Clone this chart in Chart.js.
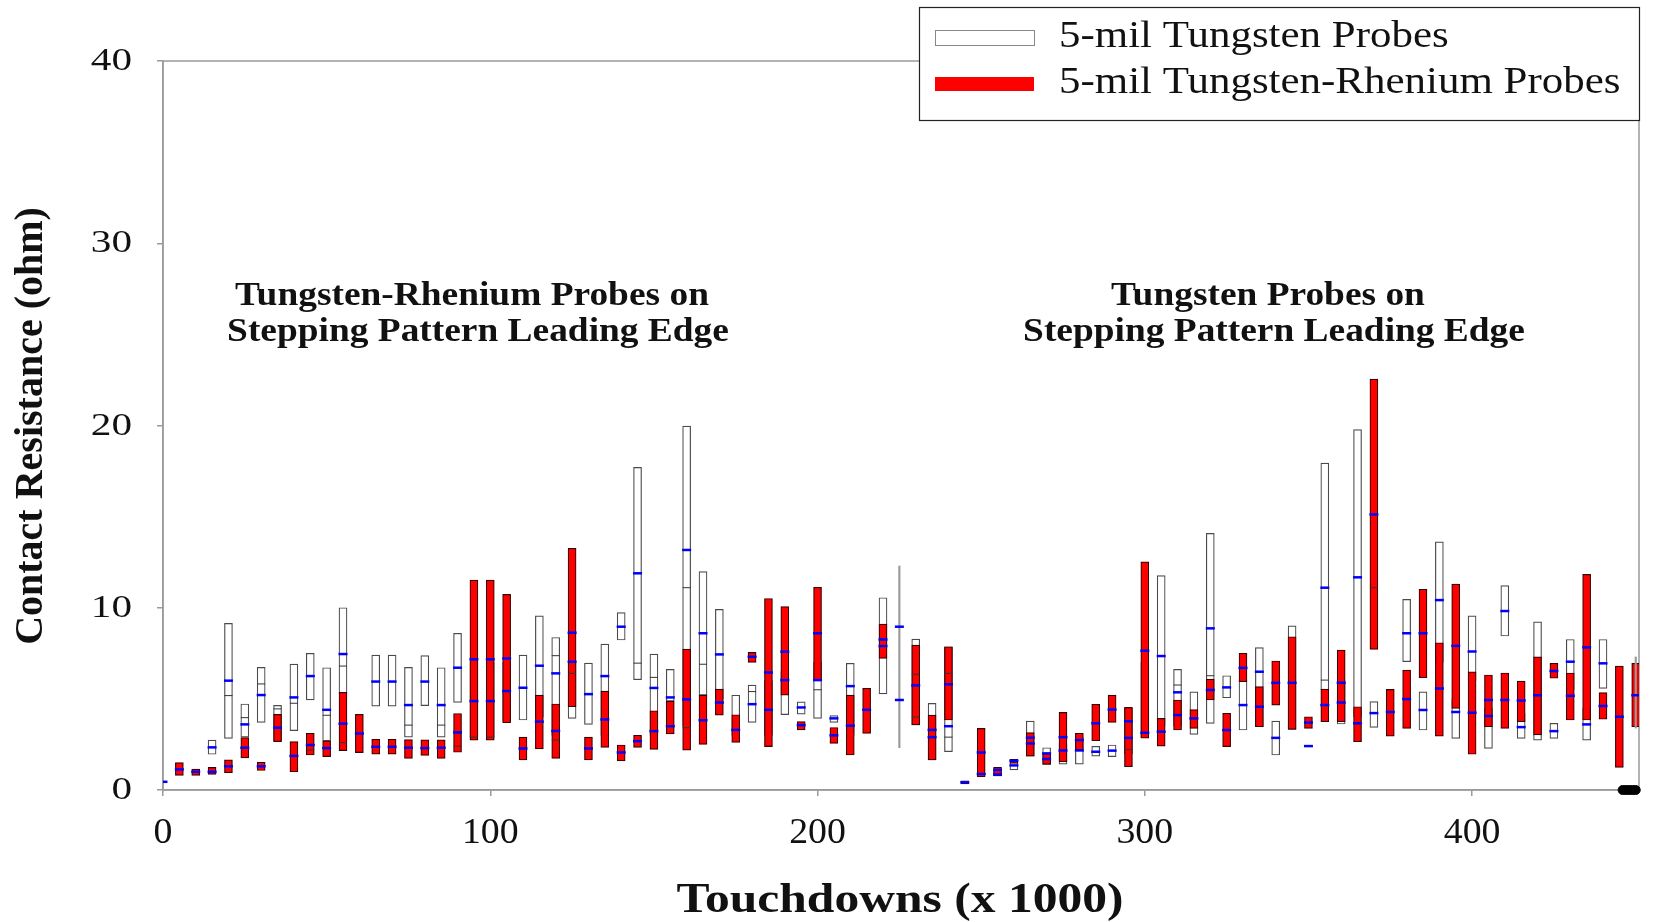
<!DOCTYPE html>
<html>
<head>
<meta charset="utf-8">
<title>Contact Resistance vs Touchdowns</title>
<script src="https://cdn.jsdelivr.net/npm/chart.js@4.4.1/dist/chart.umd.min.js"></script>
<style>
  html, body { margin: 0; padding: 0; background: #fff; overflow: hidden; }
  #wrap { width: 1672px; height: 922px; }
</style>
</head>
<body>
<div id="wrap"><canvas id="chart" width="1672" height="922"></canvas></div>
<script>
// touchdown positions (x 1000), one box pair every 5k
const touchdowns = [
  0, 5, 10, 15, 20, 25, 30, 35, 40, 45,
  50, 55, 60, 65, 70, 75, 80, 85, 90, 95,
  100, 105, 110, 115, 120, 125, 130, 135, 140, 145,
  150, 155, 160, 165, 170, 175, 180, 185, 190, 195,
  200, 205, 210, 215, 220, 225, 230, 235, 240, 245,
  250, 255, 260, 265, 270, 275, 280, 285, 290, 295,
  300, 305, 310, 315, 320, 325, 330, 335, 340, 345,
  350, 355, 360, 365, 370, 375, 380, 385, 390, 395,
  400, 405, 410, 415, 420, 425, 430, 435, 440, 445,
  450
];

// tungsten probes: box bottom / top, mean (blue) and median (black)
const wLow = [
  null, null, null, 1.96, 2.83, 2.9, 3.71, 2.7, 3.26, 4.94,
  2.7, 5.3, null, 4.6, 4.6, 2.9, 4.63, 2.9, 4.81, 2.9,
  2.9, 3.8, 3.84, 4.0, 3.0, 3.93, 3.6, 3.0, 8.23, 6.05,
  3.0, 4.87, 3.5, 5.2, 5.0, 3.0, 3.71, 3.0, 4.14, 4.16,
  3.93, 3.71, 3.0, null, 5.27, null, 3.57, 1.65, 2.1, null,
  null, 0.77, 1.1, 1.86, 1.41, 1.42, 1.42, 1.86, 1.83, 2.0,
  2.9, 3.5, 3.5, 3.05, 3.66, 5.06, 3.29, 3.47, 1.92, 3.33,
  null, 5.5, 3.62, 4.0, 3.44, null, 7.04, 3.29, 7.0, 2.83,
  6.0, 2.28, 8.45, 2.83, 2.74, 2.83, 5.5, 2.74, 5.58, null,
  null
];
const wHigh = [
  null, null, null, 2.74, 9.14, 4.72, 6.73, 4.64, 6.91, 7.5,
  6.71, 10.0, null, 7.4, 7.4, 6.73, 7.37, 6.71, 8.6, 7.0,
  7.0, 7.0, 7.4, 9.56, 8.37, 7.0, 6.96, 8.0, 9.73, 17.7,
  7.46, 6.62, 19.97, 11.98, 9.91, 5.2, 5.76, 6.0, 6.5, 4.84,
  7.0, 4.08, 6.95, null, 10.55, null, 8.28, 4.75, 7.86, null,
  null, 1.0, 1.68, 3.78, 2.32, 2.5, 2.9, 2.4, 2.47, 4.5,
  7.0, 11.76, 6.62, 5.39, 14.08, 6.27, 6.0, 7.81, 3.78, 9.01,
  null, 17.94, 6.0, 19.78, 4.85, null, 10.46, 5.39, 13.62, 5.0,
  9.56, 4.5, 11.21, 4.2, 9.23, 3.66, 8.26, 4.5, 8.26, null,
  null
];
const wMean = [
  0.45, null, null, 2.34, 6.0, 3.6, 5.21, null, 5.08, 6.25,
  4.4, 7.46, null, 5.95, 5.95, 4.66, 5.95, 4.66, 6.71, 4.88,
  4.88, 5.43, 5.61, 6.82, 6.4, 7.04, 5.26, 6.25, 8.96, 11.89,
  5.6, 5.08, 13.17, 8.6, 7.44, null, 4.71, 4.4, 6.03, 4.53,
  6.03, 3.93, 5.7, null, 7.9, 8.96, null, 3.3, 3.5, null,
  0.88, 0.85, 1.35, 2.55, 1.7, 2.17, 2.17, 2.1, 2.16, 3.77,
  3.14, 7.35, 5.36, null, 8.87, 5.63, 4.66, 6.49, 2.86, null,
  2.41, 11.1, 4.8, 11.67, 4.22, null, 8.6, 4.39, 10.42, 4.28,
  7.6, 4.06, 9.82, 3.45, null, 3.23, 7.04, 3.6, 6.95, null,
  null
];
const wMedian = [
  null, null, null, null, 5.18, 3.97, 5.82, 4.45, 4.76, null,
  4.1, 6.8, null, null, null, 3.56, null, 3.56, null, null,
  null, null, null, null, 7.37, null, null, null, null, 6.96,
  6.18, null, 11.1, 6.9, null, null, 5.4, null, null, null,
  5.5, null, null, null, null, null, 6.35, null, 2.9, null,
  null, null, null, null, null, null, null, null, null, null,
  null, null, 5.76, null, 6.27, null, null, null, null, null,
  null, 6.03, null, null, null, null, null, null, null, null,
  null, null, null, null, null, null, null, null, null, null,
  null
];

// tungsten-rhenium probes
const reLow = [
  null, 0.8, 0.8, 0.86, 0.95, 1.76, 1.07, 2.65, 1.0, 1.92,
  1.83, 2.16, 2.05, 1.97, 1.97, 1.73, 1.9, 1.73, 2.07, 2.74,
  2.74, 3.69, 1.65, 2.25, 1.73, 4.57, 1.65, 2.34, 1.6, 2.34,
  2.23, 3.08, 2.19, 2.5, 4.11, 2.61, 7.0, 2.38, 5.21, 3.3,
  6.03, 2.56, 1.92, 3.11, 7.22, null, 3.57, 1.65, 3.84, 0.33,
  0.73, 0.77, 1.46, 1.86, 1.41, 1.55, 2.2, 2.7, 3.71, 1.28,
  2.84, 2.41, 3.29, 3.38, 4.94, 2.38, 5.94, 3.47, 4.66, 3.33,
  3.38, 3.75, 3.75, 2.65, 7.72, 2.96, 3.38, 6.16, 2.96, 4.48,
  1.96, 3.47, 3.38, 3.75, 3.02, 6.13, 3.84, 3.84, 3.88, 1.24,
  3.47
];
const reHigh = [
  null, 1.5, 1.15, 1.24, 1.65, 2.87, 1.52, 4.15, 2.65, 3.11,
  2.69, 5.36, 4.15, 2.78, 2.78, 2.77, 2.75, 2.75, 4.2, 11.52,
  11.52, 10.73, 2.9, 5.21, 4.72, 13.26, 2.9, 5.43, 2.47, 3.0,
  4.35, 4.87, 7.73, 5.21, 5.54, 4.13, 7.55, 10.51, 10.06, 3.75,
  11.12, 3.43, 5.21, 5.58, 9.1, null, 7.95, 4.11, 7.86, 0.5,
  3.38, 1.24, 1.68, 3.15, 2.05, 4.26, 3.11, 4.7, 5.21, 4.53,
  12.52, 3.93, 4.94, 4.41, 6.09, 4.21, 7.5, 5.67, 7.08, 8.41,
  4.02, 5.54, 7.68, 4.57, 22.55, 5.52, 6.58, 11.01, 8.08, 11.3,
  6.48, 6.31, 6.42, 5.98, 7.31, 6.95, 6.42, 11.83, 5.34, 6.8,
  6.95
];
const reMean = [
  null, 1.13, 1.0, 1.0, 1.3, 2.32, 1.3, 3.42, 1.87, 2.47,
  2.3, 3.64, 3.1, 2.37, 2.37, 2.32, 2.3, 2.32, 3.16, 7.17,
  7.17, 7.22, 2.28, 3.75, 3.24, 8.63, 2.28, 3.87, 2.06, 2.68,
  3.23, 3.5, 4.97, 3.83, 4.8, 3.3, 7.31, 6.45, 7.59, 3.56,
  8.6, 3.0, 3.53, 4.4, 8.26, 4.94, 5.74, 2.9, 5.8, 0.42,
  2.06, 1.1, 1.6, 2.87, 2.0, 2.9, 2.74, 3.66, 4.41, 2.86,
  7.64, 3.2, 4.11, 3.93, 5.49, 3.29, 6.7, 4.57, 5.88, 5.88,
  3.7, 4.66, 5.88, 3.66, 15.12, 4.28, 4.99, 8.6, 5.57, 7.91,
  4.24, 4.94, 4.94, 4.91, 5.2, 6.53, 5.17, 7.83, 4.61, 4.02,
  5.2
];
const reMedian = [
  null, null, null, null, null, null, null, null, null, 2.2,
  null, 2.6, null, null, null, null, null, null, 2.4, 2.9,
  2.9, null, null, null, 2.74, 6.4, null, null, null, null,
  null, null, 3.42, null, null, null, null, null, null, null,
  null, null, null, null, null, null, 4.0, null, 6.4, null,
  null, null, null, null, null, null, null, null, null, 2.22,
  null, null, null, null, null, null, null, null, null, null,
  null, null, null, null, 11.1, null, null, null, null, null,
  null, null, null, null, null, null, null, null, null, null,
  null
];

// lone range lines without a box
const lineX = [225, 450];
const lineLow = [2.32, 3.4];
const lineHigh = [12.29, 7.3];

// readings stuck at zero at the end of the run
const zeroX = [446, 447, 448, 449, 450];
const zeroY = [0, 0, 0, 0, 0];

const xTicks = [0, 100, 200, 300, 400];
const yTicks = [0, 10, 20, 30, 40];

const labelW = '5-mil Tungsten Probes';
const labelRe = '5-mil Tungsten-Rhenium Probes';

function boxes(lo, hi) {
  return touchdowns
    .map((x, i) => (lo[i] == null || hi[i] == null ? null : { x, y: [lo[i], hi[i]] }))
    .filter(Boolean);
}
function marks(...lists) {
  const out = [];
  lists.forEach(vals => touchdowns.forEach((x, i) => {
    if (vals[i] != null) out.push({ x, y: vals[i] });
  }));
  return out;
}

// text with horizontal stretch, the serif faces here run wide
function text(ctx, str, x, y, font, sx, align) {
  ctx.save();
  ctx.font = font;
  ctx.fillStyle = '#111';
  ctx.textAlign = align || 'center';
  ctx.textBaseline = 'middle';
  ctx.translate(x, y);
  ctx.scale(sx, 1);
  ctx.fillText(str, 0, 0);
  ctx.restore();
}

const decorations = {
  id: 'decorations',
  beforeDatasetsDraw(chart) {
    const { ctx, chartArea: a } = chart;
    ctx.save();
    ctx.strokeStyle = '#9a9a9a';
    ctx.lineWidth = 1.5;
    ctx.strokeRect(a.left, a.top, a.right - a.left, a.bottom - a.top);
    ctx.restore();
  },
  afterDraw(chart) {
    const { ctx } = chart;
    const xs = chart.scales.x, ys = chart.scales.y;

    yTicks.forEach(v => text(ctx, String(v), 132, ys.getPixelForValue(v) + 1, '31px "Liberation Serif"', 1.33, 'right'));
    xTicks.forEach(v => text(ctx, String(v), xs.getPixelForValue(v), 834, '35px "Liberation Serif"', 1.08, 'center'));

    text(ctx, 'Touchdowns (x 1000)', 900, 901, 'bold 42px "Liberation Serif"', 1.18, 'center');
    ctx.save();
    ctx.translate(32, 426);
    ctx.rotate(-Math.PI / 2);
    text(ctx, 'Contact Resistance (ohm)', 0, 0, 'bold 40px "Liberation Serif"', 1, 'center');
    ctx.restore();

    const noteFont = 'bold 34px "Liberation Serif"';
    text(ctx, 'Tungsten-Rhenium Probes on', 472, 296, noteFont, 1.1, 'center');
    text(ctx, 'Stepping Pattern Leading Edge', 478, 332, noteFont, 1.1, 'center');
    text(ctx, 'Tungsten Probes on', 1268, 296, noteFont, 1.1, 'center');
    text(ctx, 'Stepping Pattern Leading Edge', 1274, 332, noteFont, 1.1, 'center');

    // legend panel over the top right corner of the plot
    const ds = chart.data.datasets;
    ctx.save();
    ctx.fillStyle = '#fff';
    ctx.fillRect(919, 7, 720, 113);
    ctx.strokeStyle = '#222';
    ctx.lineWidth = 1.2;
    ctx.strokeRect(919.5, 7.5, 720, 113);
    ctx.fillStyle = ds[0].backgroundColor;
    ctx.fillRect(935, 30, 99, 15);
    ctx.strokeStyle = '#888';
    ctx.lineWidth = 1;
    ctx.strokeRect(935.5, 30.5, 99, 15);
    ctx.fillStyle = ds[1].backgroundColor;
    ctx.fillRect(935, 77, 99, 14);
    ctx.restore();
    text(ctx, ds[0].label, 1059, 37, '38px "Liberation Serif"', 1.13, 'left');
    text(ctx, ds[1].label, 1059, 83, '38px "Liberation Serif"', 1.13, 'left');
  }
};

new Chart(document.getElementById('chart'), {
  type: 'bar',
  data: {
    datasets: [
      {
        label: labelW,
        data: boxes(wLow, wHigh),
        backgroundColor: '#ffffff',
        borderColor: '#4a4a4a',
        borderWidth: 1.2,
        borderSkipped: false,
        barThickness: 8,
        grouped: false,
        order: 5
      },
      {
        label: labelRe,
        data: boxes(reLow, reHigh),
        backgroundColor: '#ff0000',
        borderColor: '#3a0000',
        borderWidth: 1.2,
        borderSkipped: false,
        barThickness: 8,
        grouped: false,
        order: 4
      },
      {
        label: 'range',
        data: lineX.map((x, i) => ({ x, y: [lineLow[i], lineHigh[i]] })),
        backgroundColor: '#9a9a9a',
        borderWidth: 0,
        barThickness: 1.5,
        grouped: false,
        order: 3
      },
      {
        type: 'scatter',
        label: 'median',
        data: marks(wMedian, reMedian),
        pointStyle: 'line',
        radius: 4,
        borderColor: '#333333',
        borderWidth: 1,
        order: 2
      },
      {
        type: 'scatter',
        label: 'mean',
        data: marks(wMean, reMean),
        pointStyle: 'line',
        radius: 4.5,
        borderColor: '#0000ff',
        borderWidth: 2.5,
        order: 1
      },
      {
        type: 'scatter',
        label: 'zero',
        data: zeroX.map((x, i) => ({ x, y: zeroY[i] })),
        pointStyle: 'circle',
        radius: 4.5,
        backgroundColor: '#000000',
        borderColor: '#000000',
        clip: false,
        order: 0
      }
    ]
  },
  options: {
    responsive: false,
    animation: false,
    events: [],
    layout: { padding: { left: 0, top: 61, right: 33, bottom: 0 } },
    plugins: { legend: { display: false }, tooltip: { enabled: false } },
    scales: {
      x: {
        type: 'linear',
        min: 0,
        max: 451,
        offset: false,
        afterFit: s => { s.height = 132; },
        ticks: { display: false, stepSize: 100, includeBounds: false },
        grid: { offset: false, drawOnChartArea: false, drawTicks: true, tickLength: 6, color: '#9a9a9a', lineWidth: 1.5 },
        border: { color: '#9a9a9a', width: 1.5 }
      },
      y: {
        min: 0,
        max: 40,
        afterFit: s => { s.width = 163; },
        ticks: { display: false, stepSize: 10 },
        grid: { drawOnChartArea: false, drawTicks: true, tickLength: 6, color: '#9a9a9a', lineWidth: 1.5 },
        border: { color: '#9a9a9a', width: 1.5 }
      }
    }
  },
  plugins: [decorations]
});
</script>
</body>
</html>
